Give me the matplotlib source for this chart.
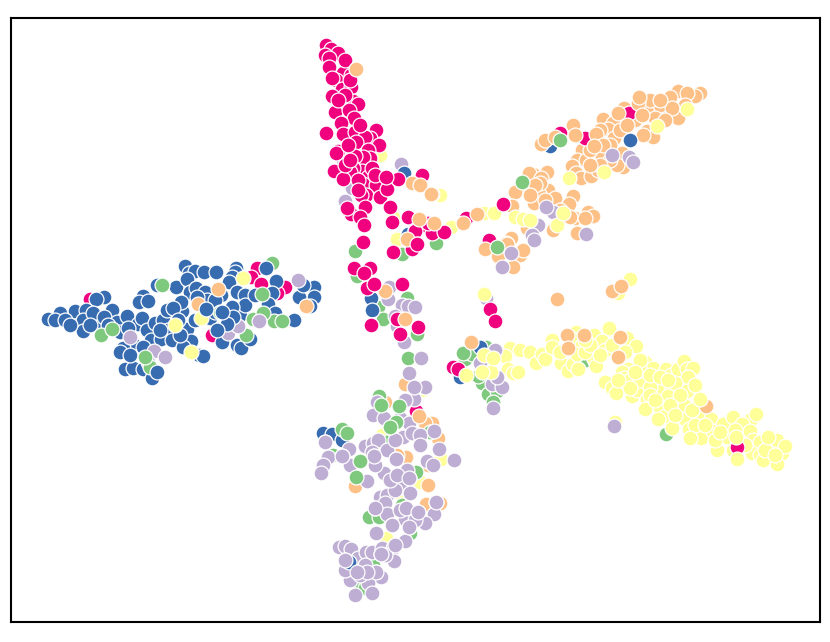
import matplotlib
matplotlib.use('Agg')
import matplotlib.pyplot as plt

GREEN = '#7fc97f'
PURPLE = '#beaed4'
ORANGE = '#fdc086'
YELLOW = '#ffff99'
BLUE = '#386cb0'
PINK = '#f0027f'

# left arm
blue_arm = [(185,266),(189,273),(195,271),(204,272),(216,272),(236,268),(235,272),(232,277),(229,282),(276,281),(272,293),(314,287),(314,297),(299,297),(303,285),(310,306),(268,304),(275,313),(294,320),(176,287),(187,279),(190,292),(196,288),(205,292),(221,295),(237,292),(245,295),(157,285),(143,296),(139,302),(148,301),(100,298),(104,297),(96,299),(75,311),(86,310),(60,313),(48,319),(55,320),(65,320),(83,320),(98,325),(83,331),(93,313),(112,310),(104,317),(117,322),(127,316),(138,324),(142,318),(120,332),(147,330),(155,323),(163,320),(167,310),(182,311),(181,302),(173,308),(187,329),(168,330),(151,340),(161,339),(172,340),(191,341),(183,347),(133,344),(123,348),(120,352),(143,347),(199,355),(203,356),(125,369),(133,368),(143,369),(152,378),(210,318),(222,342),(237,345),(241,348),(250,339),(207,300),(197,297),(70,325),(90,325),(108,325),(128,328),(160,330),(178,320),(195,320),(215,312),(240,315),(245,305),(255,295),(215,300),(180,335),(130,355)]
blue_arm_pink = [(90,299),(257,268),(251,277),(261,284),(285,287),(277,293),(212,335)]
blue_arm_purple_low = [(154,351),(165,357),(148,362),(130,337)]
blue_arm_green = [(272,263),(162,285),(101,335),(112,329),(262,294),(246,335),(274,321),(282,321),(253,319),(263,313),(220,312),(150,367),(145,357)]
blue_arm_purple = [(298,280),(259,321),(228,333),(238,326)]
blue_arm_orange = [(218,289),(198,304),(306,306)]
blue_arm_yellow = [(243,278),(201,318),(175,325),(191,352)]
blue_arm_top = [(266,268),(206,309),(232,307),(233,317),(227,324),(222,312),(217,330),(157,372)]

# top arm and the strip running down from it
pink_arm = [(326,45),(331,49),(338,53),(325,55),(329,58),(329,67),(343,73),(351,75),(336,80),(332,78),(342,89),(351,87),(332,96),(342,103),(353,101),(358,104),(335,112),(349,110),(354,118),(341,123),(326,133),(343,134),(355,132),(376,130),(370,138),(365,137),(379,145),(356,142),(338,151),(336,153),(368,150),(370,158),(363,157),(355,156),(334,171),(362,171),(353,168),(350,172),(343,179),(368,177),(363,184),(376,185),(366,195),(361,195),(380,197),(387,189),(422,175),(390,207),(365,207),(351,214),(347,208),(360,217),(364,225),(392,222),(408,217),(415,230),(425,225),(503,204),(466,218),(415,231),(432,233),(444,232),(428,223),(417,244),(412,249),(393,252),(354,268),(370,268),(364,273),(374,284),(367,288),(402,284),(371,325),(397,319),(400,334),(418,327),(490,309),(495,321),(363,242),(345,60),(350,80),(345,95),(338,100),(360,125),(348,145),(345,165),(358,180),(372,168),(350,160),(358,190),(375,175)]
pink_arm_purple = [(401,164),(386,177),(352,188),(345,201),(343,160),(389,287),(388,299),(402,305),(408,306),(415,307),(395,316),(397,326),(404,342),(421,358),(409,373),(425,387),(414,387)]
pink_arm_blue = [(404,173),(408,234),(371,298),(372,310)]
pink_arm_orange = [(356,69),(412,183),(420,185),(432,194),(419,219),(434,223),(477,214),(463,223),(407,239),(385,291),(405,319),(431,194)]
pink_arm_yellow = [(380,155),(440,195),(451,227),(484,213),(494,213),(397,239),(393,217),(484,294)]
pink_arm_green = [(436,243),(402,254),(355,251),(357,276),(378,307),(383,319),(407,298),(417,334),(408,358)]
pink_arm_top = [(398,179),(417,244),(371,325),(374,284),(386,177)]

# upper right arm
orange_arm = [(678,91),(700,93),(695,96),(687,93),(668,103),(663,114),(677,113),(670,97),(678,118),(647,108),(624,108),(603,119),(613,123),(608,129),(647,131),(653,137),(643,135),(614,138),(573,125),(582,150),(622,153),(602,157),(577,160),(586,160),(572,166),(576,173),(581,178),(591,176),(598,170),(623,167),(617,165),(533,174),(547,172),(529,173),(541,178),(526,189),(515,192),(548,190),(539,194),(555,198),(534,203),(573,196),(569,204),(588,212),(593,216),(575,218),(570,217),(585,218),(577,233),(553,230),(527,228),(512,206),(511,238),(507,244),(485,249),(498,257),(520,255),(523,250),(513,267),(506,243),(498,256),(660,105),(655,118),(635,120),(620,130),(600,130),(590,140),(610,145),(590,150),(610,160),(600,165),(590,165),(685,105),(672,108),(650,100),(660,100),(665,120),(540,183),(535,185),(530,195),(545,200),(560,210)]
orange_arm_blue = [(630,140),(550,146)]
orange_arm_pink = [(629,113),(585,138),(560,133),(489,240)]
orange_arm_top = [(596,134),(603,145),(594,146),(575,135),(627,125),(638,103),(618,113),(642,115),(639,97),(541,144),(545,140),(555,137),(485,249),(507,244)]
orange_arm_green = [(560,140),(522,182),(497,247)]
orange_arm_purple = [(612,155),(629,157),(633,162),(553,212),(546,207),(538,225),(532,235),(534,240),(586,234),(511,253),(502,267)]
orange_arm_yellow = [(687,109),(657,126),(604,172),(569,178),(515,217),(523,219),(530,220),(557,225),(563,213)]

# lower right arm
yellow_arm = [(630,279),(618,293),(510,348),(520,350),(530,352),(505,356),(508,369),(513,373),(518,372),(536,363),(542,354),(545,359),(552,340),(552,347),(561,363),(568,371),(573,364),(578,369),(576,332),(573,339),(582,345),(577,354),(594,335),(602,341),(594,359),(596,366),(605,350),(609,328),(627,338),(636,346),(625,352),(645,362),(628,369),(622,372),(624,378),(653,368),(605,382),(612,388),(623,387),(616,393),(632,396),(637,390),(647,399),(645,409),(656,377),(666,369),(671,375),(678,369),(684,361),(687,369),(693,368),(688,377),(659,390),(672,389),(668,396),(687,391),(660,407),(665,416),(658,419),(672,428),(679,407),(685,406),(685,419),(689,429),(700,399),(699,417),(711,419),(702,433),(701,438),(713,431),(723,424),(733,417),(751,419),(756,414),(742,424),(750,431),(736,437),(727,437),(717,450),(733,450),(737,459),(753,440),(760,442),(752,453),(760,455),(763,460),(770,447),(777,440),(782,453),(785,446),(777,464),(615,422),(630,380),(640,380),(650,387),(640,370),(650,375),(660,377),(675,383),(680,395),(695,385),(650,395),(655,400),(670,405),(675,415),(692,410),(695,425),(705,425),(690,438),(715,440),(735,430),(745,445),(765,450),(775,455),(768,437),(640,360),(635,372),(630,388),(618,380),(668,380),(720,432),(560,352),(585,352),(590,345),(600,355),(585,340),(612,345)]
yellow_arm_orange = [(557,299),(612,291),(621,286),(567,335),(568,348),(584,335),(620,337),(618,357),(706,406),(471,342)]
yellow_arm_pink = [(737,447),(453,367),(458,369)]
yellow_arm_blue = [(460,377),(480,347)]
yellow_arm_green = [(586,360),(666,434),(647,392),(465,359),(472,354),(486,347),(463,353),(482,383),(488,394),(497,391),(493,402),(478,376)]
yellow_arm_purple = [(486,298),(614,426),(480,363),(492,384),(502,387),(495,350),(497,377),(493,408)]
yellow_arm_top = [(491,372),(484,355),(493,358),(466,375),(482,372),(484,293),(700,399),(737,459),(736,437)]

# bottom arm
purple_arm = [(425,387),(415,387),(414,399),(405,400),(377,402),(373,415),(384,418),(400,418),(409,423),(403,437),(412,433),(420,435),(434,431),(439,449),(427,461),(454,460),(433,465),(325,442),(349,449),(342,456),(328,457),(323,465),(321,473),(350,465),(367,481),(365,446),(373,443),(378,440),(372,452),(374,456),(387,450),(396,459),(384,473),(397,475),(409,478),(407,470),(410,493),(403,487),(380,497),(387,495),(375,508),(385,503),(387,514),(406,508),(418,512),(436,502),(434,514),(425,523),(392,525),(409,527),(405,519),(376,533),(405,541),(339,547),(345,546),(351,549),(345,560),(358,558),(366,552),(372,552),(381,554),(382,548),(393,548),(394,561),(357,572),(367,572),(376,572),(381,577),(350,580),(368,583),(355,595),(372,593),(395,440),(375,465),(395,490),(400,510),(385,555),(365,565),(390,480),(415,520),(420,445),(395,545),(360,575),(345,570)]
purple_arm_green = [(333,455),(379,396),(387,442),(378,448),(416,472),(393,483),(402,505),(369,517),(379,517),(410,533),(373,565),(360,582),(365,588),(430,432)]
purple_arm_blue = [(323,433),(332,434),(342,440)]
purple_arm_blue_top = [(349,562)]
purple_arm_orange = [(385,402),(432,423),(425,423),(438,438),(406,457),(397,455),(428,465),(355,486),(426,504),(440,503)]
purple_arm_pink = [(416,411),(419,519)]
purple_arm_yellow = [(382,435),(441,459),(420,482),(392,491),(400,493),(386,538),(422,390)]
purple_arm_top = [(375,508),(396,459),(397,475),(409,478),(410,493),(406,508),(418,512),(436,502),(392,525),(409,527),(381,554),(376,572),(367,572),(357,572),(345,560),(350,465),(325,442),(342,456),(374,456)]
purple_arm_over = [(342,429),(347,433),(360,461),(356,477),(381,405),(399,406),(396,422),(390,427)]
purple_arm_orange_top = [(405,384),(419,416),(428,485)]

layers = [
    (orange_arm, ORANGE), (orange_arm_blue, BLUE), (orange_arm_pink, PINK), (orange_arm_top, ORANGE),
    (orange_arm_green, GREEN), (orange_arm_purple, PURPLE), (orange_arm_yellow, YELLOW),
    (yellow_arm_green, GREEN), (yellow_arm_blue, BLUE), (yellow_arm, YELLOW), (yellow_arm_orange, ORANGE),
    (yellow_arm_pink, PINK), (yellow_arm_purple, PURPLE), (yellow_arm_top, YELLOW),
    (purple_arm_yellow, YELLOW), (purple_arm_orange, ORANGE), (purple_arm_pink, PINK), (purple_arm_blue, BLUE),
    (purple_arm_green, GREEN), (purple_arm, PURPLE), (purple_arm_blue_top, BLUE), (purple_arm_top, PURPLE),
    (purple_arm_over, GREEN), (purple_arm_orange_top, ORANGE),
    (pink_arm_yellow, YELLOW), (pink_arm_green, GREEN), (pink_arm_purple, PURPLE), (pink_arm_blue, BLUE),
    (pink_arm, PINK), (pink_arm_orange, ORANGE), (pink_arm_top, PINK),
    (blue_arm_pink, PINK), (blue_arm, BLUE), (blue_arm_orange, ORANGE), (blue_arm_yellow, YELLOW),
    (blue_arm_purple_low, PURPLE), (blue_arm_green, GREEN), (blue_arm_purple, PURPLE), (blue_arm_top, BLUE),
]

fig = plt.figure(figsize=(8.3, 6.42), dpi=100)
ax = fig.add_axes([11 / 830, 1 - 622 / 642, 809 / 830, 604 / 642])

for pts, color in layers:
    xs = [p[0] for p in pts]
    ys = [p[1] for p in pts]
    ax.scatter(xs, ys, s=115, c=color, edgecolors='white', linewidths=0.9)

ax.set_xlim(11, 820)
ax.set_ylim(622, 18)
ax.set_xticks([])
ax.set_yticks([])
for spine in ax.spines.values():
    spine.set_linewidth(1.5)

fig.savefig('out.png', dpi=100)
